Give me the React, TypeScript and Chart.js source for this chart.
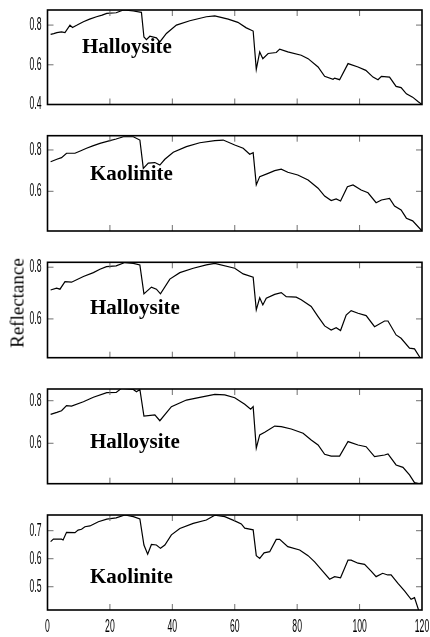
import { useEffect, useRef } from "react";
import { Chart, registerables } from "chart.js";

Chart.register(...registerables);

// Shared band axis
const bandTicks = [0, 20, 40, 60, 80, 100, 120];

// Sample 1 — Halloysite
const halloysite1Bands = [1, 2, 3, 4.5, 5.6, 7.2, 8, 9.5, 11.5, 13.5, 15.7, 17.5, 19, 22, 24.3, 26, 27.5, 30.1, 30.9, 31.7, 32.8, 34.9, 36, 38.1, 41.3, 45.6, 50.9, 53.6, 57.9, 61, 63.7, 65.9, 66.9, 68, 69, 70.7, 73.3, 74.4, 77, 81.3, 83.5, 86.7, 88.8, 91.5, 92, 93.6, 96.3, 99.5, 102, 104.3, 105.9, 107, 109.6, 111.7, 113.3, 115, 117, 118.7, 120];
const halloysite1Values = [0.753, 0.757, 0.762, 0.766, 0.762, 0.8, 0.788, 0.8, 0.817, 0.83, 0.842, 0.85, 0.859, 0.862, 0.876, 0.874, 0.871, 0.864, 0.74, 0.727, 0.744, 0.736, 0.715, 0.758, 0.8, 0.822, 0.842, 0.846, 0.83, 0.814, 0.786, 0.77, 0.577, 0.665, 0.631, 0.657, 0.662, 0.679, 0.665, 0.648, 0.631, 0.589, 0.542, 0.527, 0.533, 0.525, 0.606, 0.589, 0.572, 0.538, 0.525, 0.542, 0.538, 0.491, 0.485, 0.454, 0.437, 0.415, 0.4];

// Sample 2 — Kaolinite
const kaolinite1Bands = [1, 3, 4.5, 6.1, 8.8, 10.5, 12.5, 14.5, 16.8, 20, 22, 24.3, 27.5, 29.6, 30.7, 32.3, 34.4, 36, 37.6, 40.3, 44.5, 48.8, 53.6, 56.3, 60, 62.7, 64.8, 65.9, 66.9, 68, 70.7, 72.8, 74.9, 77, 80.2, 83.5, 86.7, 88.8, 90.9, 92.5, 93.9, 96.1, 97.9, 100.5, 102.7, 105.3, 107, 109.6, 111.2, 113.3, 115, 117, 120];
const kaolinite1Values = [0.743, 0.755, 0.763, 0.784, 0.784, 0.795, 0.808, 0.82, 0.832, 0.845, 0.853, 0.864, 0.864, 0.848, 0.711, 0.736, 0.739, 0.727, 0.755, 0.789, 0.816, 0.835, 0.845, 0.848, 0.824, 0.808, 0.779, 0.787, 0.631, 0.671, 0.687, 0.7, 0.707, 0.692, 0.679, 0.655, 0.615, 0.577, 0.555, 0.563, 0.553, 0.622, 0.631, 0.606, 0.593, 0.545, 0.558, 0.566, 0.529, 0.51, 0.47, 0.457, 0.408];

// Sample 3 — Halloysite
const halloysite2Bands = [1, 2.9, 4, 5.6, 7.7, 11.5, 14.7, 16.8, 18.9, 22, 24.8, 27.5, 29.6, 30.9, 33.3, 34.9, 36.2, 39.2, 42.4, 46.7, 50.9, 53.6, 60, 62.7, 65.9, 66.9, 68, 69, 70.1, 72.8, 74.9, 76.5, 79.7, 81.3, 84.5, 86.7, 88.8, 90.9, 92.5, 93.9, 95.7, 97.3, 99.5, 102.1, 104.8, 108, 109.1, 111.7, 113.3, 116, 117.6, 119.4];
const halloysite2Values = [0.712, 0.719, 0.715, 0.744, 0.742, 0.764, 0.779, 0.792, 0.802, 0.805, 0.818, 0.815, 0.809, 0.697, 0.723, 0.715, 0.697, 0.754, 0.779, 0.796, 0.809, 0.815, 0.796, 0.774, 0.761, 0.635, 0.682, 0.654, 0.68, 0.695, 0.702, 0.686, 0.684, 0.674, 0.648, 0.609, 0.573, 0.557, 0.566, 0.555, 0.615, 0.632, 0.622, 0.613, 0.57, 0.592, 0.592, 0.538, 0.525, 0.487, 0.484, 0.45];

// Sample 4 — Halloysite
const halloysite3Bands = [1, 3, 4.5, 6.1, 7.7, 11.5, 14.7, 19, 22, 23.7, 27.5, 28.5, 29.6, 30.9, 34.4, 36, 39.7, 44.5, 48.8, 53.6, 56.8, 60, 63.2, 65.1, 65.9, 66.9, 68, 69.6, 72.8, 74.9, 78.1, 81.9, 84.5, 86.7, 88.8, 90.9, 93.6, 96.3, 99.5, 102.1, 104.8, 108, 109.1, 111.7, 113.9, 116, 117.6, 119, 120];
const halloysite3Values = [0.736, 0.745, 0.753, 0.777, 0.775, 0.795, 0.816, 0.838, 0.839, 0.858, 0.853, 0.842, 0.853, 0.728, 0.733, 0.706, 0.772, 0.803, 0.816, 0.83, 0.827, 0.814, 0.783, 0.76, 0.772, 0.577, 0.639, 0.652, 0.681, 0.678, 0.667, 0.647, 0.615, 0.592, 0.548, 0.54, 0.54, 0.608, 0.592, 0.584, 0.537, 0.545, 0.55, 0.498, 0.487, 0.451, 0.415, 0.41, 0.415];

// Sample 5 — Kaolinite
const kaolinite2Bands = [1, 1.9, 4.5, 5, 6.1, 8.8, 9.8, 10.9, 12, 13.6, 16.3, 19, 22, 24.8, 27.5, 29.6, 30.9, 32.1, 33.3, 34.9, 36.2, 37.6, 39.7, 42.4, 46.7, 50.9, 53.6, 56.8, 60, 62.1, 63.2, 65.9, 66.9, 68, 69.4, 71.2, 73.3, 74.4, 77, 80.8, 83.5, 85.6, 88.3, 90.4, 92, 93.9, 96.3, 97.3, 99.5, 101.6, 103.7, 105.3, 107.4, 109, 110.1, 112.3, 114.4, 116.5, 117.6, 118.9];
const kaolinite2Values = [0.661, 0.67, 0.67, 0.667, 0.694, 0.693, 0.702, 0.705, 0.714, 0.717, 0.732, 0.741, 0.746, 0.756, 0.75, 0.742, 0.649, 0.616, 0.651, 0.649, 0.637, 0.649, 0.685, 0.708, 0.726, 0.738, 0.755, 0.75, 0.735, 0.724, 0.709, 0.703, 0.611, 0.601, 0.621, 0.625, 0.669, 0.669, 0.643, 0.631, 0.611, 0.589, 0.554, 0.527, 0.536, 0.532, 0.595, 0.595, 0.584, 0.58, 0.556, 0.536, 0.548, 0.542, 0.542, 0.512, 0.485, 0.455, 0.461, 0.417];

// Reflectance limits and ticks of each panel
const yLimits = [
  [0.4, 0.876],
  [0.408, 0.869],
  [0.45, 0.819],
  [0.41, 0.855],
  [0.417, 0.756],
];
const yTickSets = [
  [0.4, 0.6, 0.8],
  [0.6, 0.8],
  [0.6, 0.8],
  [0.6, 0.8],
  [0.5, 0.6, 0.7],
];
const mineralNames = ["Halloysite", "Kaolinite", "Halloysite", "Halloysite", "Kaolinite"];

type PanelLayout = { top: number; bottom: number; nameX: number; nameY: number; showX: boolean };

const PAGE_W = 430;
const PAGE_H = 637;
const PLOT_LEFT = 47.5;
const PLOT_RIGHT = 422;
const X_LABEL_Y = 627.5;

const layouts: PanelLayout[] = [
  { top: 10, bottom: 104.5, nameX: 82, nameY: 52.5, showX: false },
  { top: 135.7, bottom: 231, nameX: 90, nameY: 179.5, showX: false },
  { top: 262.3, bottom: 357.7, nameX: 90, nameY: 313.5, showX: false },
  { top: 389, bottom: 483.7, nameX: 90, nameY: 447.5, showX: false },
  { top: 515, bottom: 610, nameX: 90, nameY: 582.5, showX: true },
];

const series = [
  [halloysite1Bands, halloysite1Values],
  [kaolinite1Bands, kaolinite1Values],
  [halloysite2Bands, halloysite2Values],
  [halloysite3Bands, halloysite3Values],
  [kaolinite2Bands, kaolinite2Values],
];

// Boxed axes with inward ticks on all four sides, narrow tick labels and the mineral name
const framePlugin = {
  id: "frame",
  afterDraw(chart: any, _args: any, opts: any) {
    const { ctx, chartArea: a, scales } = chart;
    const xs = scales.x;
    const ys = scales.y;
    ctx.save();

    ctx.strokeStyle = "#707070";
    ctx.lineWidth = 1;
    ctx.beginPath();
    for (const t of xs.ticks) {
      const px = xs.getPixelForValue(t.value);
      if (px <= a.left + 1 || px >= a.right - 1) continue;
      ctx.moveTo(px, a.bottom);
      ctx.lineTo(px, a.bottom - 6);
      ctx.moveTo(px, a.top);
      ctx.lineTo(px, a.top + 6);
    }
    for (const t of ys.ticks) {
      const py = ys.getPixelForValue(t.value);
      if (py <= a.top + 1 || py >= a.bottom - 1) continue;
      ctx.moveTo(a.left, py);
      ctx.lineTo(a.left + 6, py);
      ctx.moveTo(a.right, py);
      ctx.lineTo(a.right - 6, py);
    }
    ctx.stroke();

    ctx.strokeStyle = "#000";
    ctx.lineWidth = 1.6;
    ctx.strokeRect(a.left, a.top, a.right - a.left, a.bottom - a.top);

    ctx.fillStyle = "#000";
    ctx.font = '18px "Liberation Sans", Arial, sans-serif';
    ctx.textBaseline = "middle";
    ctx.textAlign = "right";
    for (const t of ys.ticks) {
      const py = ys.getPixelForValue(t.value);
      ctx.save();
      ctx.translate(a.left - 6, py);
      ctx.scale(0.48, 1);
      ctx.fillText(String(t.label), 0, 0);
      ctx.restore();
    }

    if (opts.showX) {
      ctx.textAlign = "center";
      for (const t of xs.ticks) {
        const px = xs.getPixelForValue(t.value);
        ctx.save();
        ctx.translate(px, X_LABEL_Y - opts.offsetTop);
        ctx.scale(0.48, 1);
        ctx.fillText(String(t.label), 0, 0);
        ctx.restore();
      }
    }

    ctx.font = 'bold 21px "Liberation Serif", "Times New Roman", serif';
    ctx.textAlign = "left";
    ctx.textBaseline = "alphabetic";
    ctx.fillText(opts.name, opts.nameX, opts.nameY - opts.offsetTop);

    ctx.restore();
  },
};

function SpectrumPanel({ index }: { index: number }) {
  const ref = useRef<HTMLCanvasElement | null>(null);
  const lay = layouts[index];
  const canvasTop = Math.floor(lay.top) - 12;
  const canvasBottom = lay.showX ? PAGE_H : Math.ceil(lay.bottom) + 12;
  const canvasH = canvasBottom - canvasTop;

  useEffect(() => {
    const canvas = ref.current;
    if (!canvas) return;
    const [bands, values] = series[index];
    const [yMin, yMax] = yLimits[index];
    const yTicks = yTickSets[index];
    const chart = new Chart(canvas, {
      type: "line",
      data: {
        datasets: [
          {
            data: bands.map((b, i) => ({ x: b, y: values[i] })),
            borderColor: "#000",
            borderWidth: 1.2,
            pointRadius: 0,
            tension: 0,
            fill: false,
          },
        ],
      },
      options: {
        responsive: false,
        animation: false,
        events: [],
        layout: {
          padding: {
            left: 0,
            right: PAGE_W - PLOT_RIGHT,
            top: lay.top - canvasTop,
            bottom: canvasH - (lay.bottom - canvasTop),
          },
        },
        plugins: {
          legend: { display: false },
          tooltip: { enabled: false },
          frame: {
            name: mineralNames[index],
            nameX: lay.nameX,
            nameY: lay.nameY,
            offsetTop: canvasTop,
            showX: lay.showX,
          },
        } as any,
        scales: {
          x: {
            type: "linear",
            min: 0,
            max: 120,
            afterBuildTicks: (s: any) => {
              s.ticks = bandTicks.map((v) => ({ value: v }));
            },
            ticks: { display: false, callback: (v: any) => String(v) },
            grid: { display: false },
            border: { display: false },
            afterFit: (s: any) => {
              s.height = 0;
            },
          },
          y: {
            type: "linear",
            min: yMin,
            max: yMax,
            afterBuildTicks: (s: any) => {
              s.ticks = yTicks.map((v) => ({ value: v }));
            },
            ticks: { display: false, callback: (v: any) => Number(v).toFixed(1) },
            grid: { display: false },
            border: { display: false },
            afterFit: (s: any) => {
              s.width = PLOT_LEFT;
            },
          },
        },
      },
      plugins: [framePlugin],
    });
    return () => chart.destroy();
  }, [index]);

  return (
    <canvas
      ref={ref}
      width={PAGE_W}
      height={canvasH}
      style={{ position: "absolute", left: 0, top: canvasTop, width: PAGE_W, height: canvasH }}
    />
  );
}

export default function App() {
  return (
    <div
      style={{
        position: "absolute",
        left: 0,
        top: 0,
        width: PAGE_W,
        height: PAGE_H,
        background: "#fff",
        overflow: "hidden",
      }}
    >
      {layouts.map((_, i) => (
        <SpectrumPanel key={i} index={i} />
      ))}
      <div
        style={{
          position: "absolute",
          left: 17,
          top: 303,
          transform: "translate(-50%, -50%) rotate(-90deg)",
          fontFamily: '"Liberation Serif", "Times New Roman", serif',
          fontSize: 19,
          lineHeight: 1,
          whiteSpace: "nowrap",
          color: "#000",
        }}
      >
        Reflectance
      </div>
    </div>
  );
}
